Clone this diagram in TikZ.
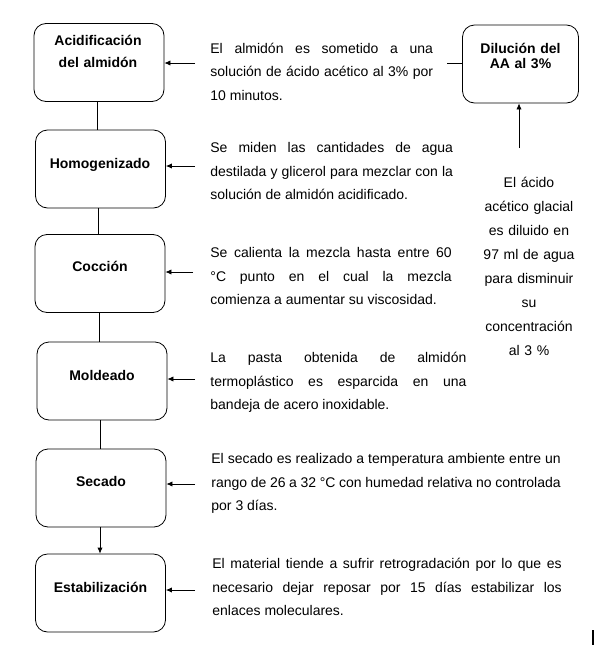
\documentclass[tikz,border=0pt]{standalone}
\usepackage{fontspec}
\setmainfont{Liberation Sans}
\usetikzlibrary{arrows.meta}
\newcommand\nohyph{\hyphenpenalty=10000\relax\exhyphenpenalty=10000\relax}
\begin{document}
\begin{tikzpicture}[x=0.75pt,y=-0.75pt,
  line width=0.6pt,
  box/.style={draw, rounded corners=9pt, minimum width=97.5pt, minimum height=58.5pt, inner sep=0pt},
  boxtext/.style={font=\fontsize{10.5pt}{17.25pt}\selectfont\bfseries, anchor=base, inner sep=0pt, align=center, text width=100pt},
  desc/.style={font=\fontsize{10.5pt}{17.8pt}\selectfont, anchor=base west, inner sep=0pt, align=justify, execute at begin node=\nohyph},
  side/.style={font=\fontsize{10.5pt}{18pt}\selectfont, anchor=base, inner sep=0pt, align=center, text width=75pt},
  arr/.style={-{Latex[length=4.5pt,width=4pt]}},
  ln/.style={-}]
\useasboundingbox (0,0) rectangle (598,650);

% boxes
\node[box] (b1) at (99,62.5) {};
\node[box] (b2) at (100.5,169) {};
\node[box] (b3) at (100,273.5) {};
\node[box] (b4) at (102,381) {};
\node[box] (b5) at (101,488) {};
\node[box] (b6) at (100.5,593) {};
\node[box, minimum width=87pt] (aa) at (520.5,64) {};

% box texts
\node[boxtext] (t1) at (98,45) {Acidificación\\[-0.6pt]del almidón};
\node[boxtext] (t2) at (100,168) {Homogenizado};
\node[boxtext] (t3) at (100,271) {Cocción};
\node[boxtext] (t4) at (102,380) {Moldeado};
\node[boxtext] (t5) at (101,486) {Secado};
\node[boxtext] (t6) at (100.5,592) {Estabilización};
\node[boxtext, font=\fontsize{10.5pt}{11.25pt}\selectfont\bfseries] (taa) at (520.5,53) {Dilución del\\AA al 3\%};

% descriptions
\node[desc, text width=167pt] (d1) at (210,53) {El almidón es sometido a una\linebreak solución de ácido acético al 3\% por\linebreak 10 minutos.};
\node[desc, text width=182pt] (d2) at (210,152.5) {Se miden las cantidades de agua\linebreak destilada y glicerol para mezclar con la\linebreak solución de almidón acidificado.};
\node[desc, text width=181pt] (d3) at (210,257.5) {Se calienta la mezcla hasta entre 60\linebreak °C punto en el cual la mezcla\linebreak comienza a aumentar su viscosidad.};
\node[desc, text width=192pt] (d4) at (210,362.5) {La pasta obtenida de almidón\linebreak termoplástico es esparcida en una\linebreak bandeja de acero inoxidable.};
\node[desc, text width=262pt] (d5) at (211,463.5) {El secado es realizado a temperatura ambiente entre un\linebreak rango de 26 a 32 °C con humedad relativa no controlada\linebreak por 3 días.};
\node[desc, text width=262pt] (d6) at (212,568.5) {El material tiende a sufrir retrogradación por lo que es\linebreak necesario dejar reposar por 15 días estabilizar los\linebreak enlaces moleculares.};

\node[side] (s1) at (529,187.5) {El ácido\\acético glacial\\es diluido en\\97 ml de agua\\para disminuir\\su\\concentración\\al 3 \%};

% connectors between boxes
\draw[ln] (b1.south -| 97.5,0) -- (b2.north -| 97.5,0);
\draw[ln] (b2.south -| 98,0) -- (b3.north -| 98,0);
\draw[ln] (b3.south -| 99,0) -- (b4.north -| 99,0);
\draw[ln] (b4.south -| 100,0) -- (b5.north -| 100,0);
\draw[arr] (b5.south -| 100,0) -- (b6.north -| 100,0);

% arrows from descriptions
\coordinate (c1) at (195,63);
\coordinate (c2) at (195,166);
\coordinate (c3) at (193,272);
\coordinate (c4) at (195,379);
\coordinate (c5) at (195,484);
\coordinate (c6) at (195,590);
\draw[arr] (c1) -- (c1 -| b1.east);
\draw[arr] (c2) -- (c2 -| b2.east);
\draw[arr] (c3) -- (c3 -| b3.east);
\draw[arr] (c4) -- (c4 -| b4.east);
\draw[arr] (c5) -- (c5 -| b5.east);
\draw[arr] (c6) -- (c6 -| b6.east);

% AA connectors
\coordinate (ca) at (447,63);
\draw[ln] (aa.west |- ca) -- (ca);
\coordinate (cs) at (519,148);
\draw[arr] (cs) -- (cs |- aa.south);

% stray mark
\coordinate (m1) at (593,630);
\coordinate (m2) at (593,645);
\draw[line width=1pt] (m1) -- (m2);
\end{tikzpicture}
\end{document}
